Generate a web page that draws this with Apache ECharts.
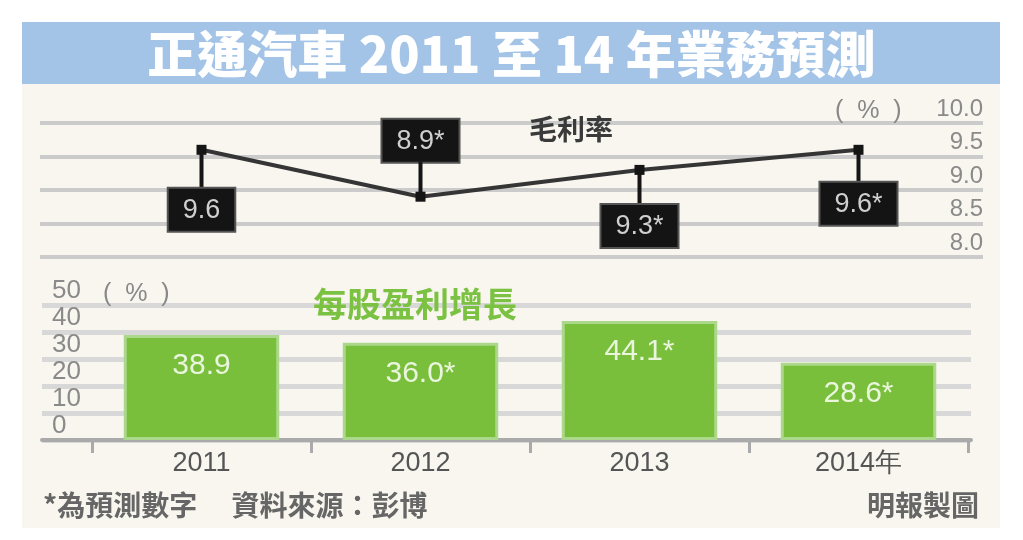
<!DOCTYPE html>
<html><head><meta charset="utf-8">
<script src="https://cdn.jsdelivr.net/npm/echarts@6/dist/echarts.min.js"></script>
<style>html,body{margin:0;padding:0;background:#fff;}#c{width:1023px;height:540px;}</style>
</head><body><div id="c"></div>
<script>
const categories = ['2011', '2012', '2013', '2014年'];
const grossMargin = [9.6, 8.9, 9.3, 9.6];
const grossMarginLabels = ['9.6', '8.9*', '9.3*', '9.6*'];
const epsGrowth = [38.9, 36.0, 44.1, 28.6];
const epsGrowthLabels = ['38.9', '36.0*', '44.1*', '28.6*'];

const CJK = '"Noto Sans CJK TC", "Noto Sans CJK SC", sans-serif';
const NUM = '"Liberation Sans Narrow", "Liberation Sans", sans-serif';

const chart = echarts.init(document.getElementById('c'));
const labelBelow = [true, false, true, true];
const pointerLen = [38, 34, 34, 32];

chart.setOption({
  animation: false,
  backgroundColor: '#ffffff',
  graphic: [
    { type: 'rect', z: -10, shape: { x: 22, y: 84, width: 978, height: 444 }, style: { fill: '#f8f6ef' } },
    { type: 'rect', z: -10, shape: { x: 22, y: 22, width: 978, height: 62 }, style: { fill: '#a3c3e7' } }
  ],
  title: [
    { text: '正通汽車 2011 至 14 年業務預測', left: 'center', top: 24,
      textStyle: { color: '#ffffff', fontSize: 50, fontWeight: 900, fontFamily: CJK } },
    { text: '毛利率', left: 524, top: 110, textStyle: { color: '#3a3a3a', fontSize: 28, fontWeight: 'bold', fontFamily: CJK } },
    { text: '每股盈利增長', left: 308, top: 282, textStyle: { color: '#7cc242', fontSize: 34, fontWeight: 'bold', fontFamily: CJK } },
    { text: '(  %  )', left: 830, top: 94, textStyle: { color: '#888', fontSize: 25, fontWeight: 'normal', fontFamily: NUM } },
    { text: '(  %  )', left: 98, top: 277, textStyle: { color: '#888', fontSize: 25, fontWeight: 'normal', fontFamily: NUM } },
    { text: '*為預測數字　 資料來源：彭博', left: 38, top: 486, textStyle: { color: '#666', fontSize: 28, fontWeight: 'bold', fontFamily: CJK } },
    { text: '明報製圖', left: 862, top: 486, textStyle: { color: '#666', fontSize: 28, fontWeight: 'bold', fontFamily: CJK } }
  ],
  grid: [
    { left: 40, right: 40, top: 123, height: 134 },   // top background lines
    { left: 92, right: 55, top: 123, height: 134 },   // top data
    { left: 42, right: 52, top: 305, height: 135 },   // bottom background lines
    { left: 92, right: 55, top: 305, height: 135 }    // bottom data
  ],
  xAxis: [
    { gridIndex: 0, type: 'value', min: 0, max: 1, show: false },
    { gridIndex: 1, type: 'category', data: categories, show: false, boundaryGap: true },
    { gridIndex: 2, type: 'value', min: 0, max: 1, splitLine: { show: false }, axisLabel: { show: false }, axisTick: { show: false },
      axisLine: { show: true, lineStyle: { color: '#aaaaaa', width: 4 } } },
    { gridIndex: 3, type: 'category', data: categories, boundaryGap: true,
      axisLine: { show: false },
      axisTick: { show: true, length: 13, lineStyle: { color: '#aaaaaa', width: 3 } },
      axisLabel: { color: '#555', fontSize: 27, fontFamily: NUM, margin: 10, interval: 0 } }
  ],
  yAxis: [
    { gridIndex: 0, type: 'value', position: 'right', min: 8, max: 10, interval: 0.5,
      axisLine: { show: false }, axisTick: { show: false },
      splitLine: { lineStyle: { color: '#cbcbcb', width: 4 } },
      axisLabel: { inside: true, margin: 0, color: '#8a8a8a', fontSize: 24, fontFamily: NUM, verticalAlign: 'bottom', padding: [0, 0, 2, 0],
        formatter: v => v.toFixed(1) } },
    { gridIndex: 1, type: 'value', min: 8, max: 10, show: false, splitLine: { show: false } },
    { gridIndex: 2, type: 'value', min: 0, max: 50, interval: 10,
      axisLine: { show: false }, axisTick: { show: false },
      splitLine: { lineStyle: { color: '#d8d8d8', width: 5 } },
      axisLabel: { inside: true, margin: 10, color: '#8a8a8a', fontSize: 26, fontFamily: NUM, verticalAlign: 'bottom', padding: [0, 0, 1, 0] } },
    { gridIndex: 3, type: 'value', min: 0, max: 50, show: false, splitLine: { show: false } }
  ],
  series: [
    {
      type: 'bar', xAxisIndex: 3, yAxisIndex: 3, barWidth: '71%',
      data: epsGrowth,
      itemStyle: { color: '#79bf3b', borderColor: '#acd88c', borderWidth: 3 },
      label: { show: true, position: 'insideTop', distance: 16, color: '#e9f5dc', fontSize: 30, fontFamily: NUM,
        formatter: p => epsGrowthLabels[p.dataIndex] }
    },
    {
      type: 'line', xAxisIndex: 1, yAxisIndex: 1,
      data: grossMargin.map((v, i) => ({
        value: v,
        label: {
          position: labelBelow[i] ? 'bottom' : 'top', distance: -4,
          rich: { p: { width: 4, height: pointerLen[i], backgroundColor: '#151515', align: 'center' } }
        }
      })),
      symbol: 'rect', symbolSize: 10,
      itemStyle: { color: '#151515' },
      lineStyle: { color: '#353535', width: 4 },
      label: { show: true, align: 'center',
        formatter: p => labelBelow[p.dataIndex]
          ? '{p|}\n{b|' + grossMarginLabels[p.dataIndex] + '}'
          : '{b|' + grossMarginLabels[p.dataIndex] + '}\n{p|}',
        rich: {
          b: { color: '#cfcfcf', fontSize: 27, fontFamily: NUM, align: 'center',
            backgroundColor: '#141414', borderColor: '#555', borderWidth: 2, padding: [8, 14, 7, 14] }
        }
      }
    }
  ]
});
</script>
</body></html>
